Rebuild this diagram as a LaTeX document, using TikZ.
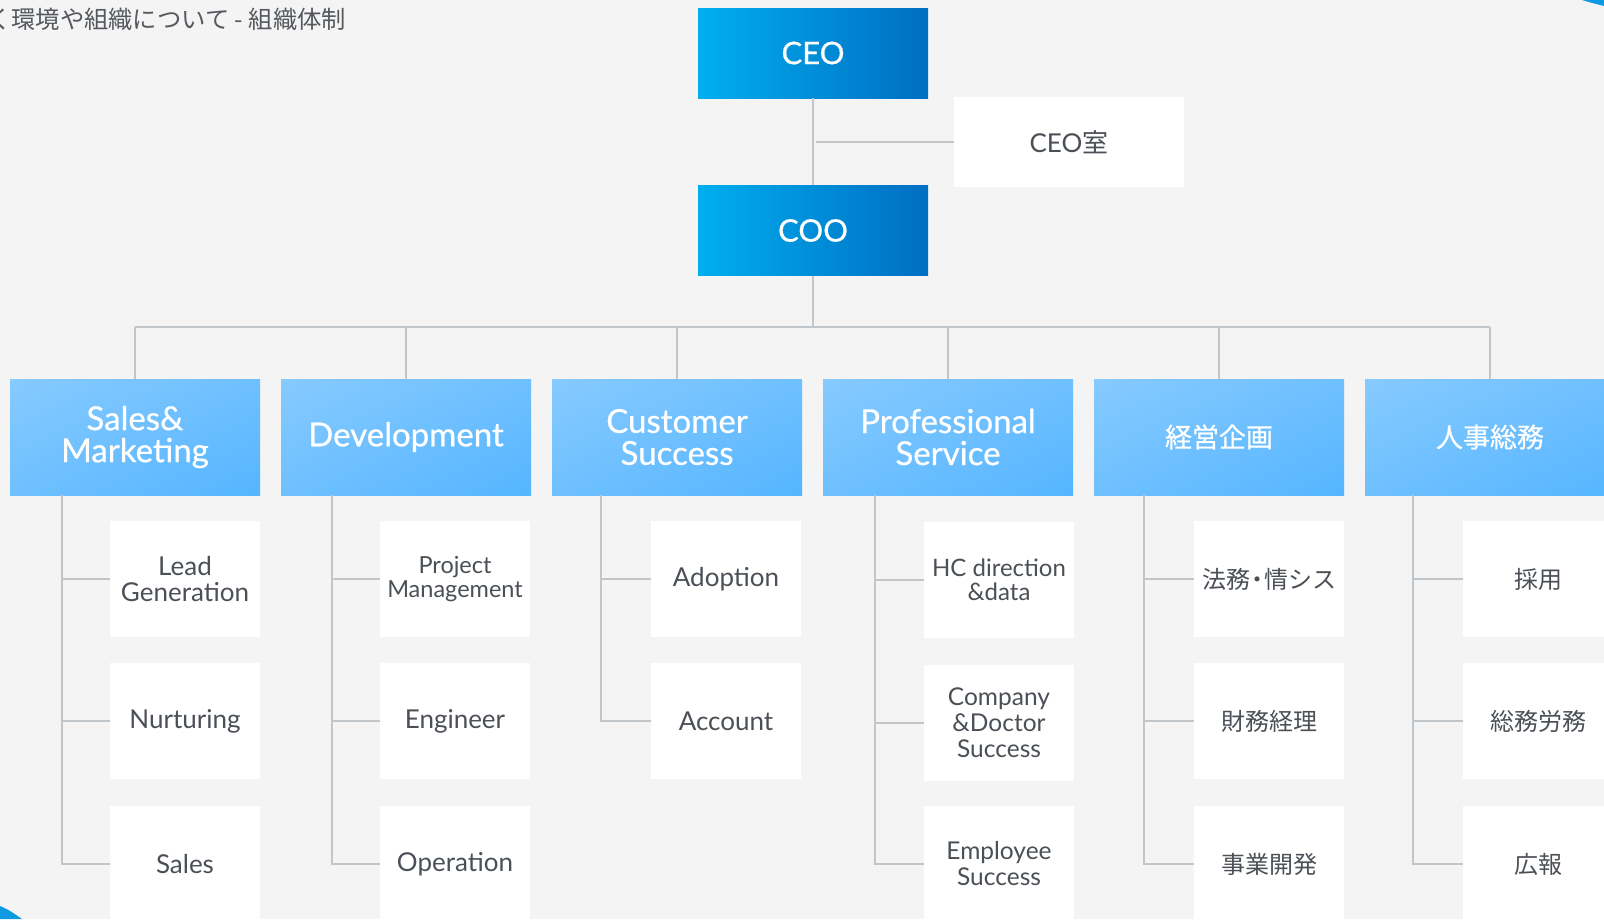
\documentclass[tikz,border=0pt]{standalone}
\usepackage{fontspec}
\usetikzlibrary{shadings}
\setmainfont{Lato}
\newfontfamily\jp{Noto Sans CJK JP}
\newfontfamily\hdfont{Lato}[FakeBold=0.6]
\newfontfamily\jpb{Noto Sans CJK JP}[FakeBold=0.6]
\definecolor{bg}{HTML}{F4F4F4}
\definecolor{lncol}{HTML}{C0C6CA}
\definecolor{txt}{HTML}{4B5056}
\definecolor{ttl}{HTML}{55595E}
\definecolor{hdA}{HTML}{86CAFF}
\definecolor{hdM}{HTML}{6FC0FF}
\definecolor{hdB}{HTML}{55B5FF}
\definecolor{ceoA}{HTML}{00AEEF}
\definecolor{ceoB}{HTML}{006EC2}
\definecolor{deco}{HTML}{0E9AE0}
\tikzset{
  ln/.style={draw=lncol, line width=2pt},
  topbox/.style={left color=ceoA, right color=ceoB, draw=none, text=white,
    minimum width=230pt, minimum height=90pt, inner sep=0pt,
    font=\hdfont\fontsize{31}{33}\selectfont},
  subbox/.style={fill=white, draw=none, text=txt,
    minimum width=230pt, minimum height=90pt, inner sep=0pt,
    font=\fontsize{26}{27}\selectfont},
  hd/.style={upper left=hdA, upper right=hdM, lower left=hdM, lower right=hdB,
    draw=none, text=white, align=center, inner sep=0pt,
    minimum width=250pt, minimum height=116pt,
    font=\hdfont\fontsize{33}{32}\selectfont},
  hdj/.style={hd, font=\jpb\fontsize{27}{30}\selectfont},
  ch/.style={fill=white, draw=none, text=txt, align=center, inner sep=0pt,
    minimum width=150pt, minimum height=116pt,
    font=\fontsize{26}{26}\selectfont},
  chs/.style={ch, font=\fontsize{24.5}{26}\selectfont},
  chj/.style={ch, font=\jp\fontsize{24}{26}\selectfont},
}
\begin{document}
\begin{tikzpicture}[x=1pt,y=-1pt]
\useasboundingbox (0,0) rectangle (1604,919);
\fill[bg] (0,0) rectangle (1604,919);
% decorative corners
\fill[deco] (1582,0) .. controls (1592,3) .. (1604,6) -- (1604,0) -- cycle;
\fill[deco] (0,906) .. controls (9,910) .. (22,919) -- (0,919) -- cycle;
% title
\node[anchor=west, inner sep=0pt, text=ttl, font=\jp\fontsize{24.3}{26}\selectfont] (title) at (-13,19) {く環境や組織について - 組織体制};
% top
\node[topbox] (ceo) at (813,53) {CEO};
\node[topbox] (coo) at (813,230.5) {COO};
\node[subbox] (ceor) at (1069,142) {CEO{\jp 室}};
\draw[ln] (ceo.south) -- (coo.north);
\draw[ln] ([xshift=3pt]ceo.south |- ceor.west) -- (ceor.west);
% headers
\node[hd] (d1) at (135,437) {Sales\&\\Marketing};
\node[hd] (d2) at (406,437) {Development};
\node[hd] (d3) at (677,437) {Customer\\Success};
\node[hd] (d4) at (948,437) {Professional\\Service};
\node[hdj] (d5) at (1219,437) {経営企画};
\node[hdj] (d6) at (1490,437) {人事総務};
% bus
\coordinate (busL) at (135,327);
\coordinate (busR) at (1490,327);
\draw[ln] (coo.south) -- (coo.south |- busL);
\draw[ln] (busL) -- (busR);
\foreach \i in {1,...,6} {\draw[ln] (d\i.north |- busL) -- (d\i.north);}
% children
\node[ch] (c1a) at (185,579) {Lead\\Generation};
\node[ch] (c1b) at (185,721) {Nurturing};
\node[ch] (c1c) at (185,864) {Sales};
\node[ch, font=\fontsize{23.5}{24}\selectfont] (c2a) at (455,579) {Project\\Management};
\node[ch] (c2b) at (455,721) {Engineer};
\node[ch] (c2c) at (455,864) {Operation};
\node[ch] (c3a) at (726,579) {Adoption};
\node[ch] (c3b) at (726,721) {Account};
\node[chs, font=\fontsize{24}{24}\selectfont] (c4a) at (999,580) {HC direction\\\&data};
\node[chs] (c4b) at (999,723) {Company\\\&Doctor\\Success};
\node[chs] (c4c) at (999,864) {Employee\\Success};
\node[chj] (c5a) at (1269,579) {法務\kern-5pt・\kern-5pt情シス};
\node[chj] (c5b) at (1269,721) {財務経理};
\node[chj] (c5c) at (1269,864) {事業開発};
\node[chj] (c6a) at (1538,579) {採用};
\node[chj] (c6b) at (1538,721) {総務労務};
\node[chj] (c6c) at (1538,864) {広報};
% column lines
\coordinate (t1) at (62,495);
\coordinate (t2) at (332,495);
\coordinate (t3) at (601,495);
\coordinate (t4) at (875,495);
\coordinate (t5) at (1144,495);
\coordinate (t6) at (1413,495);
\foreach \i in {1,2,4,5,6} {
  \draw[ln] (t\i) -- (t\i |- c\i c.west) -- (c\i c.west);
  \draw[ln] (t\i |- c\i a.west) -- (c\i a.west);
  \draw[ln] (t\i |- c\i b.west) -- (c\i b.west);
}
\draw[ln] (t3) -- (t3 |- c3b.west) -- (c3b.west);
\draw[ln] (t3 |- c3a.west) -- (c3a.west);
\end{tikzpicture}
\end{document}
